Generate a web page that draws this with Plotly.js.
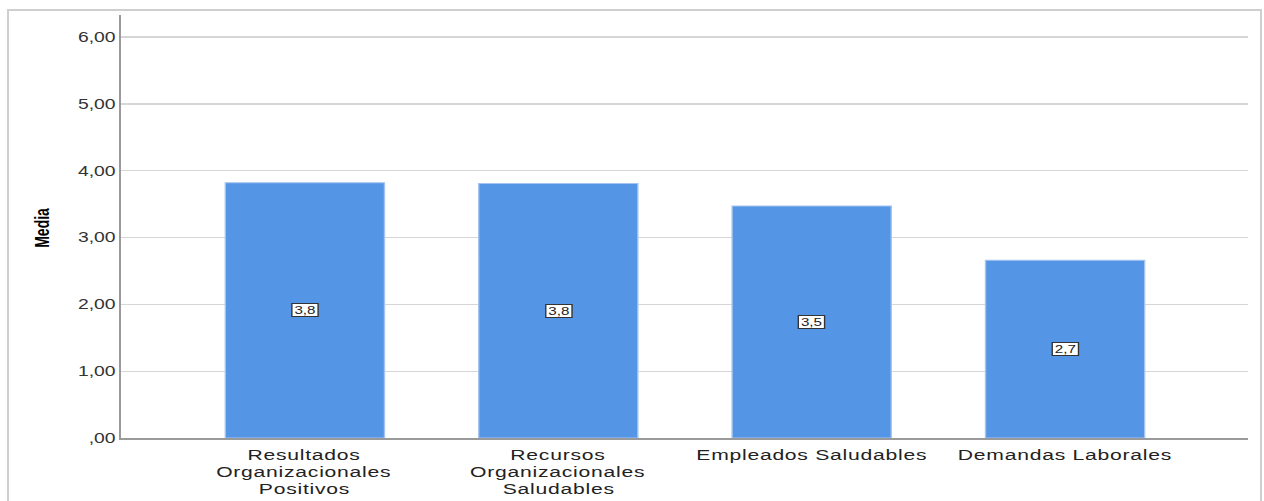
<!DOCTYPE html>
<html>
<head>
<meta charset="utf-8">
<script src="https://cdn.plot.ly/plotly-3.0.1.min.js"></script>
<style>
  html, body { margin: 0; padding: 0; background: #fff; overflow: hidden; }
  #frame { position: absolute; left: 7px; top: 9px; width: 1251px; height: 500px;
           border-left: 2px solid #cfcfcf; border-top: 2px solid #cfcfcf; border-right: 2px solid #cfcfcf; }
  #chart { position: absolute; left: 0; top: 0; transform-origin: 0 0; }
</style>
</head>
<body>
<div id="frame"></div>
<div id="chart"></div>
<script>
var categories = ["Resultados<br>Organizacionales<br>Positivos", "Recursos<br>Organizacionales<br>Saludables", "Empleados Saludables", "Demandas Laborales"];
var means = [3.82, 3.81, 3.47, 2.66];
var labels = ["3,8", "3,8", "3,5", "2,7"];
var yTickVals = [0, 1, 2, 3, 4, 5, 6];
var yTickText = [",00", "1,00", "2,00", "3,00", "4,00", "5,00", "6,00"];

// The reference picture is stretched horizontally; reproduce with a horizontal scale.
var S = 1.38;
var W = 1264 / S, H = 501;
var mL = 122 / S, mR = (1264 - 1248) / S;
document.getElementById("chart").style.transform = "scaleX(" + S + ")";

var FONT = "Liberation Sans, Arial, sans-serif";

var trace = {
  type: "bar",
  x: [0, 1, 2, 3],
  y: means,
  width: 0.628,
  marker: { color: "#5595E5", line: { color: "#a3c4f0", width: 1 } },
  hoverinfo: "none"
};

var annotations = means.map(function (v, i) {
  return {
    x: i, y: v / 2, xref: "x", yref: "y",
    text: labels[i], showarrow: false,
    font: { family: FONT, size: 11, color: "#222" },
    bgcolor: "#ffffff", bordercolor: "#333333", borderwidth: 1, borderpad: 0,
    width: 18, height: 12
  };
});

// category labels, one annotation per line
var catStart = annotations.length;
categories.forEach(function (c, i) {
  c.split("<br>").forEach(function (line, k) {
    annotations.push({
      x: i, xref: "x", y: 0, yref: "paper",
      yanchor: "middle", yshift: -(16 + 17.3 * k),
      text: line, showarrow: false,
      font: { family: FONT, size: 15.3, color: "#222" }
    });
  });
});
var catEnd = annotations.length;

annotations.push({
  xref: "paper", yref: "paper", x: 0, y: 0.497, xanchor: "center",
  xshift: 42 / S - mL,
  text: "<b>Media</b>", showarrow: false, textangle: -90,
  font: { family: FONT, size: 14, color: "#000" }
});

var layout = {
  width: W, height: H,
  margin: { l: mL, r: mR, t: 15, b: 63 },
  paper_bgcolor: "rgba(0,0,0,0)",
  plot_bgcolor: "#ffffff",
  showlegend: false,
  xaxis: {
    range: [-0.724, 3.72],
    tickvals: [0, 1, 2, 3],
    ticktext: ["", "", "", ""],
    showgrid: false, zeroline: false,
    showline: true, linecolor: "#9a9a9a", linewidth: 1.5,
    ticks: ""
  },
  yaxis: {
    range: [0, 6.33],
    tickvals: yTickVals,
    ticktext: yTickText,
    showgrid: true, gridcolor: "#d6d6d6", gridwidth: 1.3,
    zeroline: false,
    showline: true, linecolor: "#9a9a9a", linewidth: 1.5,
    ticks: "", ticklabelstandoff: 3.5,
    tickfont: { family: FONT, size: 14, color: "#333" }
  },
  annotations: annotations
};

Plotly.newPlot("chart", [trace], layout, { displayModeBar: false, staticPlot: true }).then(function (gd) {
  // slightly wider letter spacing on category labels, as in the reference
  gd.querySelectorAll("g.annotation").forEach(function (g) {
    var idx = +g.getAttribute("data-index");
    if (idx >= catStart && idx < catEnd) {
      var t = g.querySelector("text.annotation-text");
      if (t) t.style.letterSpacing = "0.55px";
    }
  });
});
</script>
</body>
</html>
